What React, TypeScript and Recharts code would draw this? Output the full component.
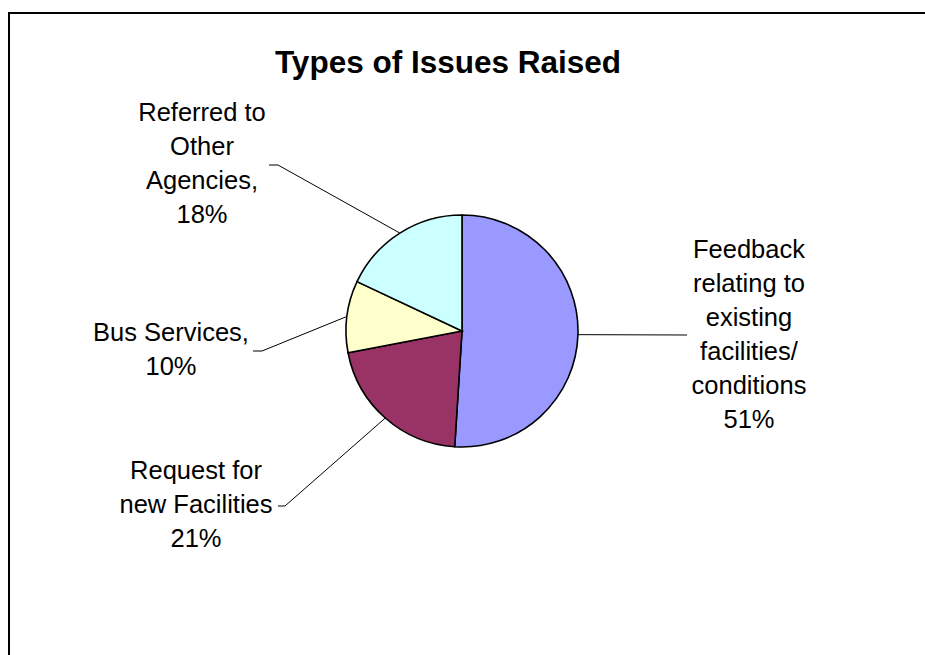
import { Cell, Pie, PieChart } from 'recharts'

const categories = [
  'Feedback relating to existing facilities/ conditions',
  'Request for new Facilities',
  'Bus Services',
  'Referred to Other Agencies',
]
const shares = [51, 21, 10, 18]
const colors = ['#9999FF', '#993366', '#FFFFCC', '#CCFFFF']
// how Excel wrapped each label (the percentage is added as the last line)
const labelLines = [
  ['Feedback', 'relating to', 'existing', 'facilities/', 'conditions'],
  ['Request for', 'new Facilities'],
  ['Bus Services,'],
  ['Referred to', 'Other', 'Agencies,'],
]

// label placement: leader elbow, leader end, text centre and first baseline
const labelLayout = [
  { elbowX: 687, elbowY: 335, endX: 687, textX: 749, textY: 258 },
  { elbowX: 285, elbowY: 506, endX: 278, textX: 196, textY: 479 },
  { elbowX: 262, elbowY: 351, endX: 253, textX: 171, textY: 341 },
  { elbowX: 278, elbowY: 165, endX: 269, textX: 202, textY: 121 },
]

const FONT = '"Liberation Sans", Arial, sans-serif'
const LINE_H = 34
const RAD = Math.PI / 180

const data = categories.map((name, i) => ({ name, value: shares[i] }))

type LabelProps = {
  cx: number
  cy: number
  midAngle: number
  outerRadius: number
  index: number
  percent: number
}

function SliceLabel({ cx, cy, midAngle, outerRadius, index, percent }: LabelProps) {
  const l = labelLayout[index]
  const sx = cx + outerRadius * Math.cos(-midAngle * RAD)
  const sy = cy + outerRadius * Math.sin(-midAngle * RAD)
  const lines = [...labelLines[index], `${Math.round(percent * 100)}%`]
  return (
    <g>
      <polyline
        points={`${sx},${sy} ${l.elbowX},${l.elbowY} ${l.endX},${l.elbowY}`}
        fill="none"
        stroke="#000"
        strokeWidth={1}
      />
      <text
        x={l.textX}
        y={l.textY}
        textAnchor="middle"
        fill="#000"
        fontFamily={FONT}
        fontSize={25.5}
      >
        {lines.map((t, k) => (
          <tspan key={k} x={l.textX} dy={k === 0 ? 0 : LINE_H}>
            {t}
          </tspan>
        ))}
      </text>
    </g>
  )
}

export default function App() {
  return (
    <div
      style={{
        position: 'fixed',
        left: 0,
        top: 0,
        width: 925,
        height: 655,
        overflow: 'hidden',
        background: '#fff',
      }}
    >
      <div
        style={{
          position: 'absolute',
          left: 8,
          top: 12,
          width: 1000,
          height: 1000,
          border: '2px solid #000',
        }}
      />
      <div style={{ position: 'absolute', left: 0, top: 0 }}>
        <PieChart width={925} height={655} margin={{ top: 0, right: 0, bottom: 0, left: 0 }}>
          <text
            x={448}
            y={73}
            textAnchor="middle"
            fontFamily={FONT}
            fontSize={31.5}
            fontWeight={700}
            fill="#000"
          >
            Types of Issues Raised
          </text>
          <Pie
            data={data}
            dataKey="value"
            nameKey="name"
            cx={462}
            cy={331}
            outerRadius={116}
            startAngle={90}
            endAngle={-270}
            stroke="#000"
            strokeWidth={1.6}
            label={(p: any) => <SliceLabel {...p} />}
            labelLine={false}
            isAnimationActive={false}
          >
            {data.map((d, i) => (
              <Cell key={d.name} fill={colors[i]} />
            ))}
          </Pie>
        </PieChart>
      </div>
    </div>
  )
}
